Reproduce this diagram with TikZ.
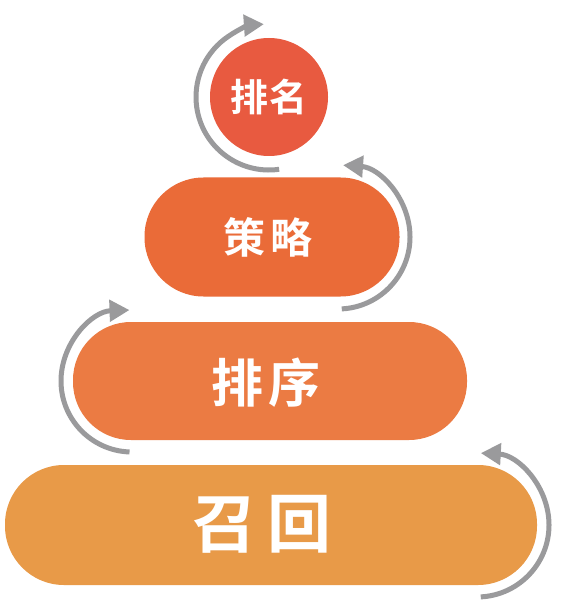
\documentclass[tikz,border=0pt]{standalone}
\usepackage{fontspec}
\newfontfamily\cjk{Noto Sans CJK SC}[BoldFont={Noto Sans CJK SC Bold}]
\usetikzlibrary{arrows.meta}
\definecolor{cA}{HTML}{E85A40}
\definecolor{cB}{HTML}{EA6B38}
\definecolor{cC}{HTML}{EB7B43}
\definecolor{cD}{HTML}{E89A48}
\definecolor{arrgray}{HTML}{9A9A9C}
\tikzset{
  pill/.style={rectangle, inner sep=0pt, text=white, font=\cjk\bfseries},
  cyc/.style={draw=arrgray, line width=5pt, -{Triangle[length=20pt,width=21pt]}},
}
\begin{document}
\begin{tikzpicture}[x=1pt,y=-1pt]
\useasboundingbox[fill=white] (0,0) rectangle (568,601);
% nodes
\node[pill, circle, fill=cA, minimum size=118pt, font=\cjk\bfseries\fontsize{38}{38}\selectfont] (rank) at (269,97) {排\hspace{2pt}名};
\node[pill, fill=cB, minimum width=255pt, minimum height=119pt, rounded corners=59pt] (strat) at (272,237) {};
\node[pill, fill=cC, minimum width=394pt, minimum height=118pt, rounded corners=58pt] (sort) at (270,381) {};
\node[pill, fill=cD, minimum width=532pt, minimum height=120pt, rounded corners=59pt] (recall) at (271,525) {};
% labels
\node[text=white, font=\cjk\bfseries\fontsize{42}{42}\selectfont] (tB) at (268,237) {策\hspace{6pt}略};
\node[text=white, font=\cjk\bfseries\fontsize{52}{52}\selectfont] (tC) at (266,383) {排\hspace{6pt}序};
\node[text=white, font=\cjk\bfseries\fontsize{64}{64}\selectfont] (tD) at (262,524) {召\hspace{12pt}回};
% cycle arrows
\draw[cyc] ([shift={(82:73)}]rank.center) arc[start angle=82, end angle=266, radius=73];
\draw[cyc] ([shift={(87:72)}]strat.center) ++(66,0) arc[start angle=87, end angle=-86, radius=72];
\draw[cyc] ([shift={(92:71)}]sort.center) ++(-138,0) arc[start angle=92, end angle=268, radius=71];
\draw[cyc] ([shift={(87:72)}]recall.center) ++(206,0) arc[start angle=87, end angle=-87, radius=72];
\end{tikzpicture}
\end{document}
